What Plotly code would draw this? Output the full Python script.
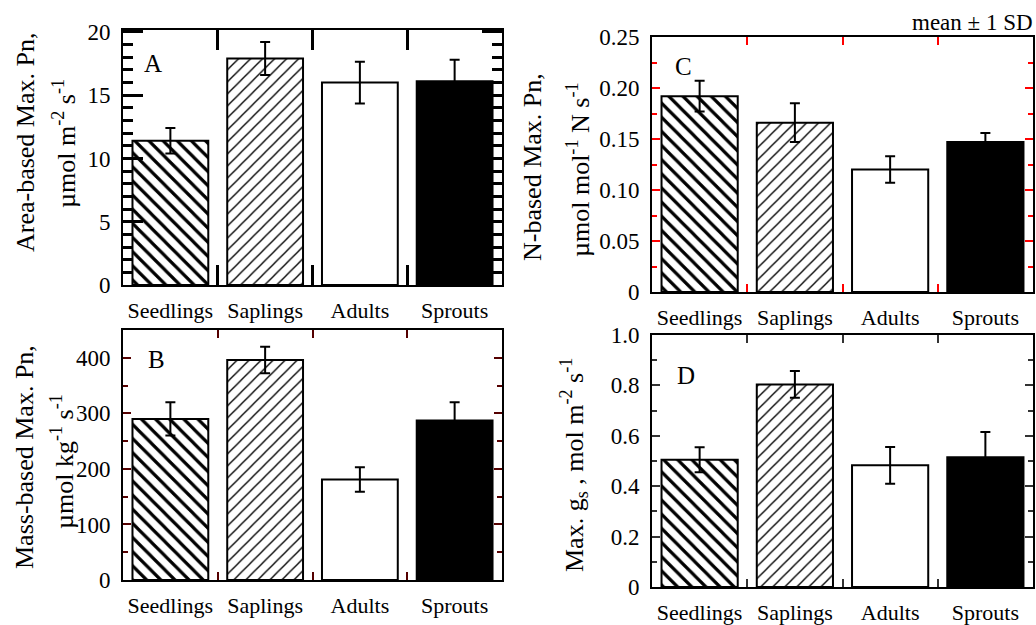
import plotly.graph_objects as go

# ---------------- data ----------------
categories = ["Seedlings", "Saplings", "Adults", "Sprouts"]

area_mean = [11.4, 17.9, 16.0, 16.1]
area_sd = [1.0, 1.3, 1.65, 1.7]

mass_mean = [290, 396, 181, 287]
mass_sd = [30, 24, 22, 33]

n_mean = [0.192, 0.166, 0.120, 0.147]
n_sd = [0.015, 0.019, 0.013, 0.009]

gs_mean = [0.505, 0.804, 0.483, 0.515]
gs_sd = [0.050, 0.053, 0.073, 0.100]

FONT = "Liberation Serif"
W, H = 1036, 625

fill_colors = ["white", "white", "white", "black"]
pattern_shapes = ["\\", "/", "", ""]
pattern_sizes = [10, 8.5, 8, 8]
pattern_solid = [0.32, 0.16, 0.2, 0.2]

fig = go.Figure()

panels = [
    (area_mean, area_sd, "x", "y"),
    (mass_mean, mass_sd, "x2", "y2"),
    (n_mean, n_sd, "x3", "y3"),
    (gs_mean, gs_sd, "x4", "y4"),
]

for mean, sd, xa, ya in panels:
    for i, cat in enumerate(categories):
        marker = dict(color=fill_colors[i], line=dict(color="black", width=2))
        if pattern_shapes[i]:
            marker["pattern"] = dict(shape=pattern_shapes[i], size=pattern_sizes[i],
                                     solidity=pattern_solid[i], fgcolor="black",
                                     bgcolor="white", fgopacity=1, fillmode="overlay")
        fig.add_trace(go.Bar(
            x=[cat], y=[mean[i]], xaxis=xa, yaxis=ya, width=0.8,
            marker=marker,
            error_y=dict(type="data", array=[sd[i]], visible=True, color="black",
                         thickness=2, width=5),
            showlegend=False, hoverinfo="skip",
        ))


def px_x(p):
    return p / W


def px_y(p):
    return 1 - p / H


def xaxis(domain, anchor, tw, tl, tc):
    return dict(
        domain=domain, anchor=anchor, type="category",
        categoryorder="array", categoryarray=categories,
        range=[-0.5, 3.5], tickson="boundaries",
        ticks="inside", ticklen=tl, tickwidth=tw, tickcolor=tc,
        showline=True, linecolor="black", linewidth=2, mirror="allticks",
        showgrid=False, zeroline=False, tickangle=0, automargin=False,
        tickfont=dict(family=FONT, size=22, color="black"),
        ticklabelstandoff=5,
    )


def yaxis(domain, anchor, rng, dtick, fmt, alias, minor_dtick, tw, tl, tc):
    return dict(
        domain=domain, anchor=anchor, range=rng,
        tickmode="linear", tick0=0, dtick=dtick, tickformat=fmt, labelalias=alias,
        ticks="inside", ticklen=tl, tickwidth=tw, tickcolor=tc,
        minor=dict(ticks="inside", dtick=minor_dtick, tick0=0, ticklen=max(tl // 2, 5),
                   tickwidth=tw, tickcolor=tc, showgrid=False),
        showline=True, linecolor="black", linewidth=2, mirror="allticks",
        showgrid=False, zeroline=False, automargin=False,
        tickfont=dict(family=FONT, size=23, color="black"),
        ticklabelstandoff=6,
    )


xA = [px_x(123), px_x(502)]
xC = [px_x(652), px_x(1033)]
yA = [px_y(285), px_y(30)]
yB = [px_y(580), px_y(330)]
yC = [px_y(292), px_y(37)]
yD = [px_y(587), px_y(335)]

fig.update_layout(
    template="none",
    width=W, height=H,
    margin=dict(l=0, r=0, t=0, b=0, pad=0, autoexpand=False),
    paper_bgcolor="white", plot_bgcolor="white",
    font=dict(family=FONT, color="black"),
    barmode="overlay",
    xaxis=xaxis(xA, "y", 3, 20, "black"),
    yaxis=yaxis(yA, "x", [0, 20.15], 5, "d", {}, 1, 3, 20, "black"),
    xaxis2=xaxis(xA, "y2", 2, 8, "#550000"),
    yaxis2=yaxis(yB, "x2", [0, 450], 100, "d", {}, 50, 2, 8, "#550000"),
    xaxis3=xaxis(xC, "y3", 2, 8, "red"),
    yaxis3=yaxis(yC, "x3", [0, 0.25], 0.05, ".2f", {"0.00": "0"}, 0.025, 2, 8, "red"),
    xaxis4=xaxis(xC, "y4", 2, 8, "#333333"),
    yaxis4=yaxis(yD, "x4", [0, 1.0], 0.2, ".1f", {"0.0": "0"}, 0.1, 2, 8, "#333333"),
)

annotations = []


def title_line(text, cx, cy, size=26):
    annotations.append(dict(
        text=text, xref="paper", yref="paper", x=px_x(cx), y=px_y(cy),
        xanchor="center", yanchor="middle", textangle=-90, showarrow=False,
        font=dict(family=FONT, size=size, color="black"),
    ))


title_line("Area-based Max. Pn,", 25, 142)
title_line("µmol m<sup>-2</sup> s<sup>-1</sup>", 65, 144)
title_line("Mass-based Max. Pn,", 24, 457)
title_line("µmol kg<sup>-1</sup> s<sup>-1</sup>", 62, 462)
title_line("N-based Max. Pn,", 532, 167)
title_line("µmol mol<sup>-1</sup> N s<sup>-1</sup>", 578, 170)
title_line("Max. g<sub>s</sub> , mol m<sup>-2</sup> s<sup>-1</sup>", 574, 465)


def letter(text, cx, cy):
    annotations.append(dict(
        text=text, xref="paper", yref="paper", x=px_x(cx), y=px_y(cy),
        xanchor="center", yanchor="middle", showarrow=False,
        font=dict(family=FONT, size=25, color="black"),
    ))


letter("A", 153, 63)
letter("B", 156, 359)
letter("C", 683, 67)
letter("D", 686, 375)

annotations.append(dict(
    text="mean ± 1 SD", xref="paper", yref="paper", x=px_x(1035), y=px_y(22),
    xanchor="right", yanchor="middle", showarrow=False,
    font=dict(family=FONT, size=23, color="black"),
))

fig.update_layout(annotations=annotations)

fig.write_html("out.html")
